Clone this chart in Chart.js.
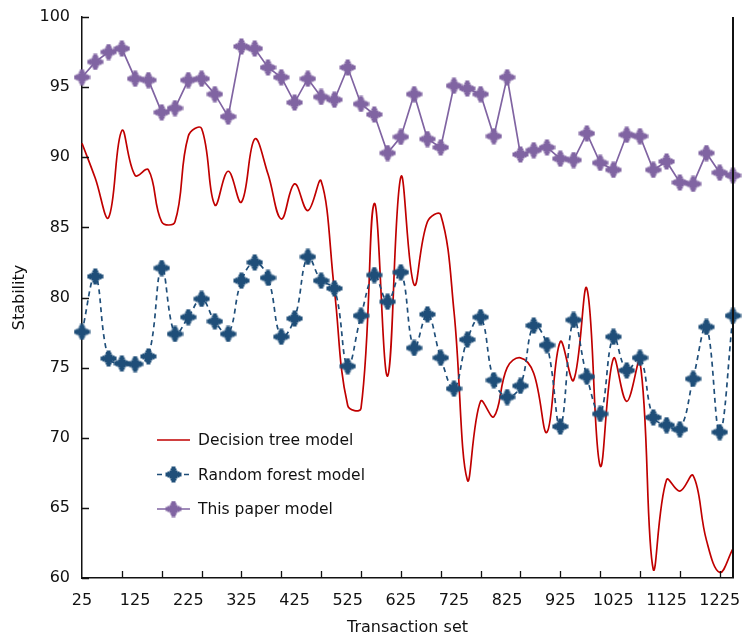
<!DOCTYPE html>
<html>
<head>
<meta charset="utf-8">
<script src="https://cdn.jsdelivr.net/npm/chart.js@4.4.0/dist/chart.umd.min.js"></script>
<style>
    html, body { margin: 0; padding: 0; background: #fff; }
    #wrap { width: 745px; height: 639px; }
</style>
</head>
<body>
<div id="wrap"><canvas id="stabilityChart" width="745" height="639"></canvas></div>
<script>
// Dane
const transactionSet = [25, 50, 75, 100, 125, 150, 175, 200, 225, 250,
    275, 300, 325, 350, 375, 400, 425, 450, 475, 500,
    525, 550, 575, 600, 625, 650, 675, 700, 725, 750,
    775, 800, 825, 850, 875, 900, 925, 950, 975, 1000,
    1025, 1050, 1075, 1100, 1125, 1150, 1175, 1200, 1225, 1250];

const decisionTree = [91.0, 88.5, 85.7, 91.9, 88.7, 89.1, 85.4, 85.4, 91.5, 92.05,
    86.6, 89.0, 86.8, 91.3, 88.8, 85.6, 88.1, 86.2, 88.3, 80.5,
    72.3, 72.1, 86.7, 74.4, 88.6, 80.9, 85.4, 85.9, 79.0, 67.0,
    72.6, 71.5, 75.0, 75.7, 74.6, 70.4, 76.85, 74.1, 80.65, 68.0,
    75.65, 72.6, 75.4, 60.6, 67.0, 66.2, 67.3, 62.7, 60.4, 62.1];

const randomForest = [77.55, 81.5, 75.65, 75.3, 75.25, 75.8, 82.1, 77.4, 78.6, 79.9,
    78.3, 77.4, 81.2, 82.5, 81.4, 77.2, 78.5, 82.9, 81.2, 80.65,
    75.1, 78.7, 81.6, 79.7, 81.8, 76.4, 78.8, 75.7, 73.5, 77.0,
    78.6, 74.1, 72.9, 73.7, 78.0, 76.6, 70.8, 78.4, 74.35, 71.7,
    77.2, 74.8, 75.7, 71.45, 70.9, 70.6, 74.2, 77.9, 70.4, 78.7];

const thisPaper = [95.7, 96.8, 97.5, 97.75, 95.6, 95.5, 93.2, 93.5, 95.5, 95.6,
    94.5, 92.9, 97.9, 97.75, 96.4, 95.7, 93.9, 95.6, 94.3, 94.1,
    96.4, 93.8, 93.05, 90.3, 91.45, 94.5, 91.3, 90.7, 95.1, 94.9,
    94.5, 91.5, 95.7, 90.2, 90.5, 90.7, 89.9, 89.8, 91.7, 89.6,
    89.1, 91.6, 91.5, 89.1, 89.7, 88.2, 88.1, 90.3, 88.9, 88.7];

const yTicks = [60, 65, 70, 75, 80, 85, 90, 95, 100];

const seriesNames = ['Decision tree model', 'Random forest model', 'This paper model'];
const seriesColors = ['#C00000', '#1F4E79', '#8064A2'];

const axisFont = { family: 'DejaVu Sans', size: 16 };
const axisColor = '#111';

// Znacznik w kształcie krzyżyka (jak w Excelu)
function makeMarker(color) {
    const c = document.createElement('canvas');
    c.width = 17;
    c.height = 17;
    const g = c.getContext('2d');
    g.fillStyle = color;
    g.fillRect(6.5, 0.5, 4, 16);
    g.fillRect(0.5, 6.5, 16, 4);
    g.fillRect(4.5, 4.5, 8, 8);
    g.fillRect(5.5, 2.5, 6, 2);
    g.fillRect(5.5, 12.5, 6, 2);
    g.fillRect(2.5, 5.5, 2, 6);
    g.fillRect(12.5, 5.5, 2, 6);
    return c;
}

const blueMarker = makeMarker(seriesColors[1]);
const purpleMarker = makeMarker(seriesColors[2]);

// Wewnętrzne znaczniki osi, prawa ramka i legenda w polu wykresu
const framePlugin = {
    id: 'frame',
    afterDraw(chart) {
        const { ctx, chartArea: a, scales: { x, y } } = chart;
        ctx.save();
        ctx.strokeStyle = axisColor;
        ctx.lineWidth = 1.3;
        ctx.beginPath();
        transactionSet.forEach((v, i) => {
            if (i % 3 === 0 && i > 0) {
                const px = Math.round(x.getPixelForValue(i)) + 0.5;
                ctx.moveTo(px, a.bottom);
                ctx.lineTo(px, a.bottom - 7);
            }
        });
        yTicks.forEach(t => {
            const py = Math.round(y.getPixelForValue(t)) + 0.5;
            ctx.moveTo(a.left, py);
            ctx.lineTo(a.left + 7, py);
        });
        ctx.stroke();

        ctx.lineWidth = 2;
        ctx.beginPath();
        ctx.moveTo(a.right, a.top);
        ctx.lineTo(a.right, a.bottom);
        ctx.stroke();

        // legenda
        const lx = a.left + 75;
        const ly = a.top + 423;
        const gap = 34.5;
        ctx.font = '15.5px "DejaVu Sans"';
        ctx.textBaseline = 'middle';
        ctx.fillStyle = axisColor;
        chart.data.datasets.forEach((ds, i) => {
            const cy = ly + i * gap;
            ctx.strokeStyle = ds.borderColor;
            ctx.lineWidth = ds.borderWidth;
            ctx.setLineDash(ds.borderDash || []);
            ctx.beginPath();
            ctx.moveTo(lx, cy);
            ctx.lineTo(lx + 33, cy);
            ctx.stroke();
            ctx.setLineDash([]);
            if (ds.pointStyle instanceof HTMLCanvasElement) {
                ctx.drawImage(ds.pointStyle, lx + 16.5 - 8.5, cy - 8.5);
            }
            ctx.fillText(ds.label, lx + 41, cy + 1);
        });
        ctx.restore();
    }
};

const ctx = document.getElementById('stabilityChart').getContext('2d');
const stabilityChart = new Chart(ctx, {
    type: 'line',
    data: {
        labels: transactionSet,
        datasets: [{
            label: seriesNames[0],
            data: decisionTree,
            borderColor: seriesColors[0],
            borderWidth: 1.7,
            pointRadius: 0,
            tension: 0.4,
            fill: false,
            order: 3
        }, {
            label: seriesNames[1],
            data: randomForest,
            borderColor: seriesColors[1],
            borderWidth: 1.7,
            borderDash: [5, 4],
            pointStyle: blueMarker,
            pointRadius: 8,
            tension: 0.4,
            fill: false,
            clip: false,
            order: 2
        }, {
            label: seriesNames[2],
            data: thisPaper,
            borderColor: seriesColors[2],
            borderWidth: 1.7,
            pointStyle: purpleMarker,
            pointRadius: 8,
            tension: 0,
            fill: false,
            clip: false,
            order: 1
        }]
    },
    options: {
        responsive: false,
        animation: false,
        layout: { padding: { top: 17, right: 12, left: 0, bottom: 0 } },
        plugins: {
            legend: { display: false },
            tooltip: { enabled: false }
        },
        scales: {
            x: {
                type: 'category',
                offset: false,
                grid: { display: false, drawTicks: false },
                border: { display: true, color: axisColor, width: 1.5 },
                ticks: {
                    autoSkip: false,
                    maxRotation: 0,
                    minRotation: 0,
                    padding: 13,
                    color: axisColor,
                    font: axisFont,
                    callback: (v, i) => (i % 4 === 0 ? String(transactionSet[i]) : '')
                },
                title: {
                    display: true,
                    text: 'Transaction set',
                    color: axisColor,
                    font: axisFont,
                    padding: { top: 0, bottom: 2 }
                },
                afterFit: s => { s.height = 61; s.paddingRight = 0; }
            },
            y: {
                min: 60,
                max: 100,
                grid: { display: false, drawTicks: false },
                border: { display: true, color: axisColor, width: 1.5 },
                ticks: {
                    stepSize: 5,
                    padding: 12,
                    color: axisColor,
                    font: axisFont
                },
                title: {
                    display: true,
                    text: 'Stability',
                    color: axisColor,
                    font: axisFont,
                    padding: { top: 10, bottom: 0 }
                },
                afterFit: s => { s.width = 82; s.paddingTop = 0; s.paddingBottom = 0; }
            }
        }
    },
    plugins: [framePlugin]
});
</script>
</body>
</html>
